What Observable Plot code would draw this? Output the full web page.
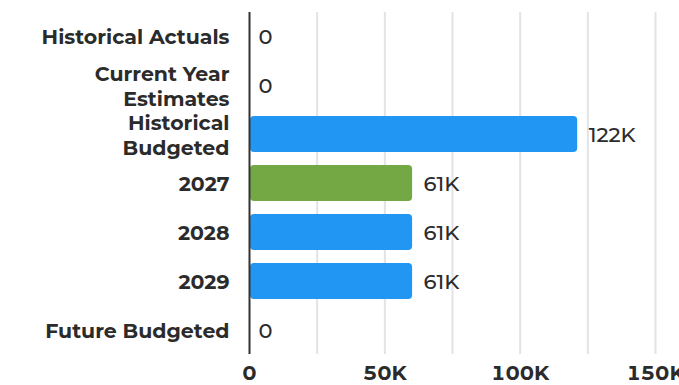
<!DOCTYPE html>
<html>
<head>
<meta charset="utf-8">
<script src="https://cdn.jsdelivr.net/npm/d3@7"></script>
<script src="https://cdn.jsdelivr.net/npm/@observablehq/plot@0.6"></script>
<style>
  html, body { margin: 0; padding: 0; background: #fff; }
  #chart svg { display: block; }
</style>
</head>
<body>
<div id="chart"></div>
<script>
const categories = ["Historical Actuals", "Current Year Estimates", "Historical Budgeted", "2027", "2028", "2029", "Future Budgeted"];
const values = [0, 0, 122000, 61000, 61000, 61000, 0];
const barColors = ["#2196f3", "#2196f3", "#2196f3", "#74a845", "#2196f3", "#2196f3", "#2196f3"];
const wrappedLabels = {"Current Year Estimates": "Current Year\nEstimates", "Historical Budgeted": "Historical\nBudgeted"};
const xTicks = [0, 50000, 100000, 150000];
const gridTicks = [25000, 50000, 75000, 100000, 125000, 150000];

const data = categories.map((c, i) => ({category: c, value: values[i], color: barColors[i]}));
const fmtK = d => d === 0 ? "0" : Math.round(d / 1000) + "K";
const font = "Montserrat, 'Open Sans', sans-serif";

const chart = Plot.plot({
  width: 679,
  height: 385,
  marginLeft: 249,
  marginRight: 24,
  marginTop: 12,
  marginBottom: 31,
  style: {fontFamily: font, color: "#2b2b2b", background: "#fff"},
  x: {domain: [0, 150000], label: null},
  y: {domain: categories, paddingInner: 0.27, paddingOuter: 0.11, label: null},
  marks: [
    Plot.ruleX(gridTicks, {stroke: "#e3e3e3", strokeWidth: 2}),
    Plot.barX(data, {y: "category", x: "value", fill: "color", rx: 4, insetLeft: 1, insetRight: 2}),
    Plot.text(data, {y: "category", x: "value", text: d => fmtK(d.value), textAnchor: "start", dx: 9, dy: 1, fontSize: 21, fontWeight: 500, fill: "#2b2b2b"}),
    Plot.ruleX([0], {stroke: "#333", strokeWidth: 2}),
    Plot.axisY({tickSize: 0, tickPadding: 20, fontSize: 20.5, fontWeight: 700, lineHeight: 1.2, tickFormat: d => wrappedLabels[d] || d, fill: "#2b2b2b"}),
    Plot.axisX({ticks: xTicks, tickSize: 0, tickPadding: 11, fontSize: 20.5, fontWeight: 700, tickFormat: fmtK, fill: "#2b2b2b"})
  ]
});
document.getElementById("chart").append(chart);
</script>
</body>
</html>
